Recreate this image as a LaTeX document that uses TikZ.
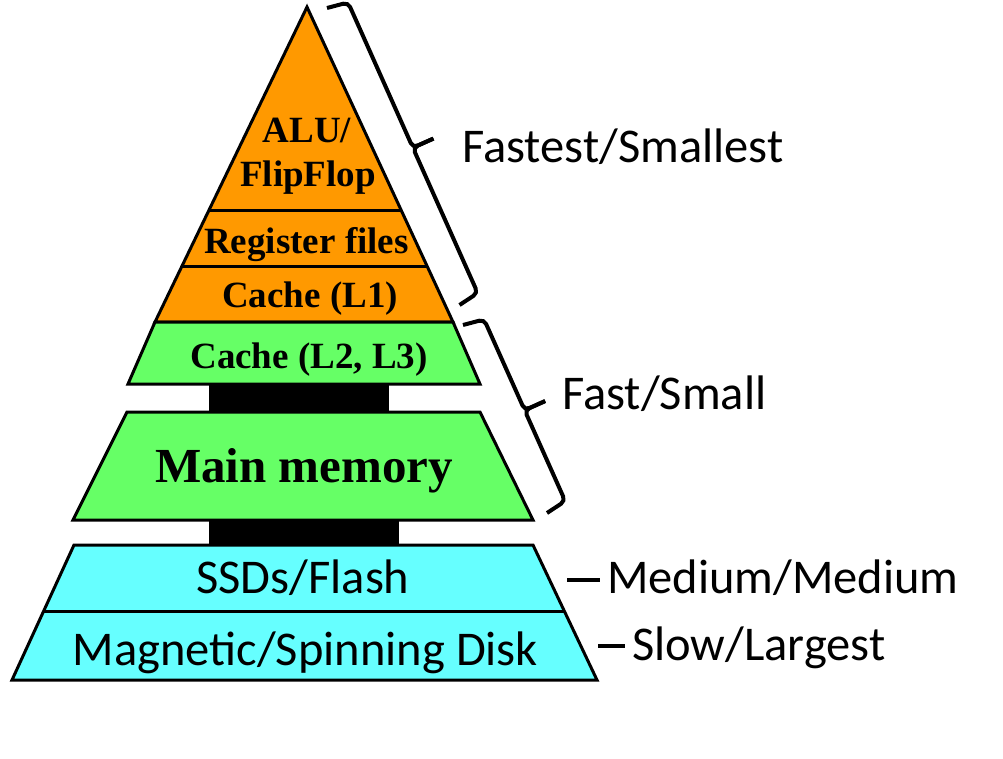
\documentclass[tikz,border=0pt]{standalone}
\usepackage{fontspec}
\setmainfont{Liberation Serif}
\newfontfamily\calib{Carlito}
\usetikzlibrary{calc}
\definecolor{orng}{HTML}{FF9900}
\definecolor{grn}{HTML}{66FF66}
\definecolor{cyn}{HTML}{66FFFF}
\tikzset{
  layer/.style={draw=black, line width=3pt, line join=miter},
  inlbl/.style={font=\fontsize{37}{44}\selectfont\bfseries, inner sep=0pt, anchor=base},
  callbl/.style={font=\calib\fontsize{48.5}{58}\selectfont, inner sep=0pt, anchor=base},
  sidelbl/.style={font=\calib\fontsize{48.5}{58}\selectfont, inner sep=0pt, anchor=base west},
  brc/.style={draw=black, line width=4pt, rounded corners=5pt},
  tickln/.style={draw=black, line width=3.5pt}
}
\newcommand\memBrace[2]{%
  \draw[brc] (#1) -- ($(#1)!3.5pt!(#2)!21.5pt!90:(#2)$) -- ($(#1)!0.5!(#2)!21.5pt!90:(#2)$) -- ($(#1)!0.5!(#2)!44pt!90:(#2)$);
  \draw[brc] ($(#1)!0.5!(#2)!44pt!90:(#2)$) -- ($(#1)!0.5!(#2)!21.5pt!90:(#2)$) -- ($(#2)!3.5pt!(#1)!21.5pt!-90:(#1)$) -- (#2);
}
\begin{document}
\begin{tikzpicture}[x=1pt,y=-1pt]
\useasboundingbox (0,0) rectangle (1003,758);
% coordinates
\coordinate (apex) at (307,7);
\coordinate (otl) at (155,322);
\coordinate (otr) at (453,322);
\coordinate (gbl) at (128,384);
\coordinate (gbr) at (480,384);
\coordinate (mtl) at (127,412);
\coordinate (mtr) at (480,412);
\coordinate (mbl) at (73,520);
\coordinate (mbr) at (533,520);
\coordinate (ctl) at (74,545);
\coordinate (ctr) at (533,545);
\coordinate (cml) at (43.7,611);
\coordinate (cmr) at (564.3,611);
\coordinate (cbl) at (12,680);
\coordinate (cbr) at (597,680);
% black bars
\fill[black] (209,383) rectangle (389,413);
\fill[black] (209,519) rectangle (399,546);
% orange triangle
\fill[orng] (apex) -- (otr) -- (otl) -- cycle;
\begin{scope}
  \clip (apex) -- (otr) -- (otl) -- cycle;
  \draw[line width=3pt] (100,210) -- (500,210);
  \draw[line width=3pt] (100,266.7) -- (500,266.7);
\end{scope}
\draw[layer] (apex) -- (otr) -- (otl) -- cycle;
% green L2/L3
\draw[layer, fill=grn] (otl) -- (otr) -- (gbr) -- (gbl) -- cycle;
% main memory
\draw[layer, fill=grn] (mtl) -- (mtr) -- (mbr) -- (mbl) -- cycle;
% storage
\draw[layer, fill=cyn] (ctl) -- (ctr) -- (cbr) -- (cbl) -- cycle;
\draw[line width=3pt] (cml) -- (cmr);
% inner labels
\node[inlbl] (alu) at (307,142) {ALU/};
\node[inlbl] (ff) at (308,186) {FlipFlop};
\node[inlbl] (reg) at (306.5,253) {Register files};
\node[inlbl] (l1) at (310,307) {Cache (L1)};
\node[inlbl] (l23) at (309,368) {Cache (L2, L3)};
\node[inlbl, font=\fontsize{49}{58}\selectfont\bfseries] (mm) at (304,482) {Main memory};
\node[callbl] (ssd) at (303,593) {SSDs/Flash};
\node[callbl] (mag) at (305.5,665) {Magnetic/Spinning Disk};
% braces
\coordinate (b1s) at (327,8);
\coordinate (b1e) at (459.5,305);
\coordinate (b2s) at (463,325);
\coordinate (b2e) at (547,513);
\memBrace{b1s}{b1e}
\memBrace{b2s}{b2e}
% side labels
\node[sidelbl] (fastest) at (462,162) {Fastest/Smallest};
\node[sidelbl] (fast) at (562,409) {Fast/Small};
\node[sidelbl] (medium) at (607,593) {Medium/Medium};
\node[sidelbl] (slow) at (632,660) {Slow/Largest};
% ticks
\coordinate (t1a) at (567,580);
\coordinate (t1b) at (600,580);
\coordinate (t2a) at (598,646);
\coordinate (t2b) at (625,646);
\draw[tickln] (t1a) -- (t1b);
\draw[tickln] (t2a) -- (t2b);
\end{tikzpicture}
\end{document}
